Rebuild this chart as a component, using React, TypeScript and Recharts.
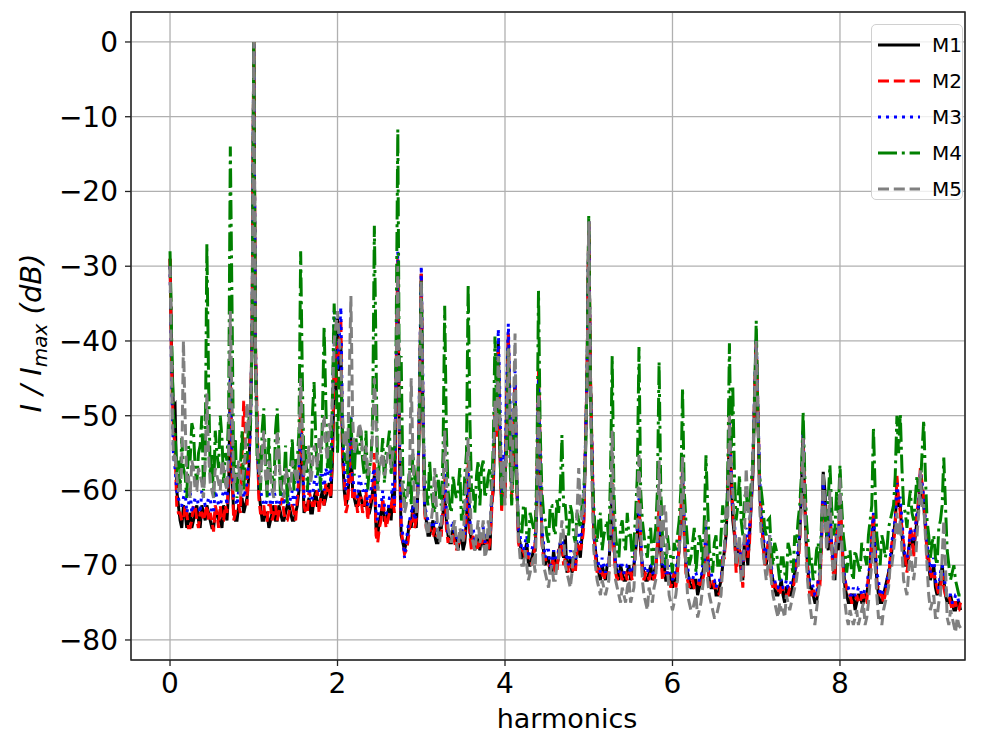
import React from 'react';
import { LineChart, Line, XAxis, YAxis, CartesianGrid, ReferenceArea } from 'recharts';

// harmonic order of the main samples
const harmonics = [
  0, 0.04, 0.08, 0.12, 0.16, 0.2, 0.24, 0.28, 0.32, 0.36, 0.4, 0.44, 0.48, 0.52, 0.56, 0.6, 0.64, 0.68, 0.72, 0.76, 0.8, 0.84, 0.88, 0.92, 0.96,
  1, 1.04, 1.08, 1.12, 1.16, 1.2, 1.24, 1.28, 1.32, 1.36, 1.4, 1.44, 1.48, 1.52, 1.56, 1.6, 1.64, 1.68, 1.72, 1.76, 1.8, 1.84, 1.88, 1.92, 1.96,
  2, 2.04, 2.08, 2.12, 2.16, 2.2, 2.24, 2.28, 2.32, 2.36, 2.4, 2.44, 2.48, 2.52, 2.56, 2.6, 2.64, 2.68, 2.72, 2.76, 2.8, 2.84, 2.88, 2.92, 2.96,
  3, 3.04, 3.08, 3.12, 3.16, 3.2, 3.24, 3.28, 3.32, 3.36, 3.4, 3.44, 3.48, 3.52, 3.56, 3.6, 3.64, 3.68, 3.72, 3.76, 3.8, 3.84, 3.88, 3.92, 3.96,
  4, 4.04, 4.08, 4.12, 4.16, 4.2, 4.24, 4.28, 4.32, 4.36, 4.4, 4.44, 4.48, 4.52, 4.56, 4.6, 4.64, 4.68, 4.72, 4.76, 4.8, 4.84, 4.88, 4.92, 4.96,
  5, 5.04, 5.08, 5.12, 5.16, 5.2, 5.24, 5.28, 5.32, 5.36, 5.4, 5.44, 5.48, 5.52, 5.56, 5.6, 5.64, 5.68, 5.72, 5.76, 5.8, 5.84, 5.88, 5.92, 5.96,
  6, 6.04, 6.08, 6.12, 6.16, 6.2, 6.24, 6.28, 6.32, 6.36, 6.4, 6.44, 6.48, 6.52, 6.56, 6.6, 6.64, 6.68, 6.72, 6.76, 6.8, 6.84, 6.88, 6.92, 6.96,
  7, 7.04, 7.08, 7.12, 7.16, 7.2, 7.24, 7.28, 7.32, 7.36, 7.4, 7.44, 7.48, 7.52, 7.56, 7.6, 7.64, 7.68, 7.72, 7.76, 7.8, 7.84, 7.88, 7.92, 7.96,
  8, 8.04, 8.08, 8.12, 8.16, 8.2, 8.24, 8.28, 8.32, 8.36, 8.4, 8.44, 8.48, 8.52, 8.56, 8.6, 8.64, 8.68, 8.72, 8.76, 8.8, 8.84, 8.88, 8.92, 8.96,
  9, 9.04, 9.08, 9.12, 9.16, 9.2, 9.24, 9.28, 9.32, 9.36, 9.4, 9.44,
];

// harmonic order of the in-between samples
const harmonicsMid = [
  0.02, 0.06, 0.1, 0.14, 0.18, 0.22, 0.26, 0.3, 0.34, 0.38, 0.42, 0.46, 0.5, 0.54, 0.58, 0.62, 0.66, 0.7, 0.74, 0.78, 0.82, 0.86, 0.9, 0.94, 0.98,
  1.02, 1.06, 1.1, 1.14, 1.18, 1.22, 1.26, 1.3, 1.34, 1.38, 1.42, 1.46, 1.5, 1.54, 1.58, 1.62, 1.66, 1.7, 1.74, 1.78, 1.82, 1.86, 1.9, 1.94, 1.98,
  2.02, 2.06, 2.1, 2.14, 2.18, 2.22, 2.26, 2.3, 2.34, 2.38, 2.42, 2.46, 2.5, 2.54, 2.58, 2.62, 2.66, 2.7, 2.74, 2.78, 2.82, 2.86, 2.9, 2.94, 2.98,
  3.02, 3.06, 3.1, 3.14, 3.18, 3.22, 3.26, 3.3, 3.34, 3.38, 3.42, 3.46, 3.5, 3.54, 3.58, 3.62, 3.66, 3.7, 3.74, 3.78, 3.82, 3.86, 3.9, 3.94, 3.98,
  4.02, 4.06, 4.1, 4.14, 4.18, 4.22, 4.26, 4.3, 4.34, 4.38, 4.42, 4.46, 4.5, 4.54, 4.58, 4.62, 4.66, 4.7, 4.74, 4.78, 4.82, 4.86, 4.9, 4.94, 4.98,
  5.02, 5.06, 5.1, 5.14, 5.18, 5.22, 5.26, 5.3, 5.34, 5.38, 5.42, 5.46, 5.5, 5.54, 5.58, 5.62, 5.66, 5.7, 5.74, 5.78, 5.82, 5.86, 5.9, 5.94, 5.98,
  6.02, 6.06, 6.1, 6.14, 6.18, 6.22, 6.26, 6.3, 6.34, 6.38, 6.42, 6.46, 6.5, 6.54, 6.58, 6.62, 6.66, 6.7, 6.74, 6.78, 6.82, 6.86, 6.9, 6.94, 6.98,
  7.02, 7.06, 7.1, 7.14, 7.18, 7.22, 7.26, 7.3, 7.34, 7.38, 7.42, 7.46, 7.5, 7.54, 7.58, 7.62, 7.66, 7.7, 7.74, 7.78, 7.82, 7.86, 7.9, 7.94, 7.98,
  8.02, 8.06, 8.1, 8.14, 8.18, 8.22, 8.26, 8.3, 8.34, 8.38, 8.42, 8.46, 8.5, 8.54, 8.58, 8.62, 8.66, 8.7, 8.74, 8.78, 8.82, 8.86, 8.9, 8.94, 8.98,
  9.02, 9.06, 9.1, 9.14, 9.18, 9.22, 9.26, 9.3, 9.34, 9.38, 9.42,
];

const m1 = [
  -29, -49, -60, -64, -62, -65, -63, -64, -62, -65, -63, -62, -64, -65, -63, -64, -62, -64, -45, -63, -64, -62, -63, -61, -50,
  0, -52, -62, -64, -63, -64, -62, -64, -63, -64, -62, -63, -64, -62, -50, -63, -62, -63, -61, -62, -61, -62, -60, -61, -45,
  -37, -40, -60, -61, -52, -61, -62, -61, -62, -63, -62, -58, -66, -63, -64, -63, -64, -62, -30, -66, -68, -66, -65, -64, -60,
  -31, -62, -66, -65, -66, -67, -65, -60, -66, -67, -66, -68, -66, -67, -58, -67, -68, -67, -66, -68, -67, -62, -50, -40, -62,
  -60, -39, -60, -45, -66, -69, -68, -70, -69, -68, -45, -66, -70, -69, -71, -70, -69, -68, -66, -70, -71, -70, -68, -66, -55,
  -24, -56, -68, -71, -70, -72, -70, -60, -70, -72, -71, -72, -70, -71, -68, -62, -70, -72, -71, -72, -70, -63, -71, -72, -71,
  -73, -72, -68, -58, -70, -72, -73, -72, -73, -71, -66, -72, -73, -74, -73, -70, -66, -52, -64, -70, -68, -72, -68, -66, -58,
  -40, -60, -66, -70, -67, -72, -74, -73, -74, -73, -74, -72, -70, -66, -52, -68, -73, -74, -75, -72, -57.5, -66, -62, -70, -66,
  -62, -70, -74, -75, -74, -75, -74, -75, -74, -70, -64, -72, -75, -74, -72, -70, -66, -60, -62, -68, -70, -66, -68, -64, -58,
  -62, -68, -72, -70, -74, -72, -72, -75, -74, -76, -75, -76,
];
const m1Mid = [
  -42, -48.6, -62, -65, -63, -64, -65, -63, -64, -62, -64, -63, -65, -63, -64, -65, -63, -60, -58, -64, -62, -61, -62, -58, -40,
  -42, -60, -64, -63, -65, -63, -64, -62, -64, -63, -62, -64, -63, -60, -56, -62, -61, -63, -60, -62, -60, -61, -59, -56, -48,
  -44, -55, -62, -58, -60, -62, -60, -62, -61, -63, -60, -65, -64, -62, -64, -62, -60, -45, -55, -67, -67, -64, -62, -65, -48,
  -50, -64, -66, -64, -67, -65, -63, -64, -67, -65, -67, -66, -68, -64, -65, -67, -66, -68, -67, -66, -68, -60, -52, -55, -58,
  -50, -52, -56, -58, -67, -69, -67, -70, -68, -62, -56, -68, -69, -71, -68, -70, -67, -69, -71, -69, -70, -67, -69, -64, -45,
  -45, -66, -70, -72, -71, -70, -66, -67, -71, -70, -72, -71, -72, -70, -66, -68, -71, -72, -70, -71, -68, -68, -70, -72, -72,
  -72, -70, -64, -66, -71, -73, -72, -74, -72, -70, -69, -73, -72, -74, -72, -68, -60, -58, -66, -68, -71, -66, -70, -62, -48,
  -50, -64, -69, -68, -71, -73, -74, -72, -75, -73, -74, -71, -69, -60, -62, -71, -73, -75, -73, -66, -60, -68, -67, -72, -68,
  -66, -73, -75, -74, -76, -74, -75, -74, -72, -67, -68, -74, -75, -73, -71, -68, -64, -62, -66, -70, -68, -67, -66, -62, -60,
  -65, -70, -71, -73, -73, -70, -74, -75, -75, -76, -75,
];

const m2 = [
  -29, -52, -62, -63, -64, -63, -65, -62, -64, -63, -64, -62, -63, -65.5, -63, -62, -64, -63, -46, -64, -62, -63, -48, -62, -51,
  0, -50, -63, -62, -64, -62, -63, -64, -62, -63, -64, -62, -63, -61, -48, -62, -63, -61, -62, -60, -61, -62, -60, -61, -42,
  -40, -37, -58, -62, -52, -60, -63, -61, -62, -64, -61, -55, -67, -64, -63, -64, -62, -63, -29, -65, -68.5, -67, -64, -65, -59,
  -31, -63, -65, -66, -65, -66, -66, -58, -67, -66, -67, -67, -67, -66, -56, -68, -67, -68, -67, -67, -68, -63, -48, -41, -63,
  -61, -39, -61, -46, -67, -68, -69, -69, -70, -67, -44, -67, -69, -70, -70, -71, -68, -67, -69, -71, -70, -71, -67, -67, -54,
  -24, -55, -69, -70, -71, -71, -71, -59, -71, -71, -72, -71, -71, -72, -67, -61, -71, -71, -72, -71, -71, -62, -72, -71, -72,
  -72, -73, -67, -57, -71, -73, -72, -73, -72, -72, -65, -73, -72, -73, -74, -69, -65, -50, -63, -71, -67, -73, -66, -67, -57,
  -40, -59, -67, -69, -68, -73, -73, -74, -73, -74, -73, -73, -69, -67, -53, -67, -74, -73, -74, -73, -60, -65, -63, -71, -65,
  -61, -71, -73, -74, -75, -74, -75, -74, -75, -71, -63, -73, -74, -75, -73, -69, -67, -58, -63, -67, -71, -65, -69, -63, -57,
  -61, -69, -71, -71, -73, -73, -73, -74, -75, -75, -76, -75,
];
const m2Mid = [
  -44, -54, -63, -64, -62, -65, -64, -62, -65, -63, -63, -64, -64, -62, -65, -64, -62, -58, -57, -63, -62, -55, -52, -57, -38,
  -40, -61, -63, -64, -62, -64, -62, -63, -61, -64, -63, -62, -64, -58, -54, -63, -60, -62, -61, -63, -61, -59, -60, -55, -46,
  -42, -56, -63, -58, -61, -61, -61, -63, -60, -62, -61, -66, -65, -61, -65, -63, -61, -44, -54, -67, -68, -65, -63, -64, -47,
  -49, -65, -65, -66, -66, -66, -62, -65, -66, -66, -68, -67, -67, -63, -66, -66, -67, -67, -66, -67, -67, -59, -53, -54, -57,
  -49, -53, -55, -59, -68, -68, -68, -69, -69, -60, -54, -69, -70, -70, -69, -71, -68, -70, -70, -70, -71, -68, -68, -65, -44,
  -44, -65, -71, -71, -72, -71, -65, -68, -72, -71, -71, -72, -71, -71, -65, -67, -72, -71, -71, -72, -67, -67, -71, -71, -73,
  -71, -71, -63, -65, -72, -72, -73, -73, -73, -71, -68, -72, -73, -73, -73, -69, -61, -57, -65, -69, -70, -67, -69, -61, -47,
  -49, -63, -70, -67, -72, -72, -73, -73, -74, -74, -73, -72, -70, -59, -61, -72, -74, -74, -72, -67, -62, -67, -68, -71, -67,
  -65, -72, -74, -75, -75, -75, -74, -75, -71, -66, -67, -73, -74, -74, -72, -67, -65, -61, -65, -69, -69, -66, -65, -61, -59,
  -64, -69, -72, -72, -74, -71, -74, -74, -76, -75, -76,
];

const m3 = [
  -30, -55, -60, -62, -61, -63, -60, -62, -61, -63, -61, -62, -61, -63, -61, -62, -60, -62, -44, -61, -62, -60, -61, -59, -52,
  0, -53, -60, -62, -61, -62, -60, -62, -61, -62, -60, -61, -62, -60, -52, -61, -60, -61, -59, -60, -58, -60, -58, -59, -36,
  -44, -35.5, -57, -59, -50, -60, -61, -59, -60, -62, -60, -57, -64, -62, -62, -63, -61, -62, -28, -64, -69, -65, -63, -64, -60,
  -30, -62, -64, -65, -64, -66, -64, -57, -66, -65, -66, -67, -65, -66, -57, -66, -67, -66, -65, -67, -66, -61, -47, -38.4, -61,
  -58, -37.7, -59, -44, -65, -68, -67, -69, -68, -67, -45, -65, -69, -68, -70, -69, -68, -66, -68, -70, -69, -70, -66, -65, -54,
  -24, -55, -68, -70, -69, -71, -70, -59, -70, -71, -70, -71, -70, -71, -67, -61, -70, -71, -70, -71, -70, -62, -70, -71, -70,
  -72, -71, -67, -57, -69, -72, -72, -71, -72, -70, -64, -71, -72, -73, -72, -69, -65, -51, -62, -69, -67, -71, -65, -65, -56,
  -39.5, -58, -65, -69, -66, -72, -73, -72, -73, -72, -73, -72, -69, -65, -52, -67, -72, -73, -74, -71, -59, -65, -62, -70, -65,
  -61, -70, -73, -74, -73, -74, -73, -74, -73, -70, -63, -71, -74, -73, -72, -69, -65, -59, -61, -67, -69, -65, -67, -63, -57.5,
  -61, -67, -71, -69, -73, -71, -71, -74, -74, -75, -74, -75,
];
const m3Mid = [
  -45, -57, -61, -62, -60, -62, -63, -61, -62, -60, -62, -61, -63, -60, -62, -61, -60, -56, -55, -61, -60, -59, -60, -56, -38,
  -40, -58, -61, -62, -60, -62, -61, -62, -60, -61, -62, -60, -61, -57, -55, -60, -59, -61, -58, -60, -58, -57, -56, -50, -40,
  -40, -52, -60, -56, -58, -60, -58, -60, -59, -61, -58, -63, -62, -60, -63, -61, -59, -43, -52, -66, -67, -64, -62, -63, -45,
  -46, -63, -64, -65, -64, -65, -62, -63, -65, -64, -66, -66, -66, -62, -64, -65, -66, -66, -65, -66, -66, -58, -50, -48, -55,
  -46, -48, -54, -58, -66, -68, -66, -68, -67, -61, -55, -67, -68, -70, -68, -69, -67, -68, -69, -68, -69, -66, -67, -63, -44,
  -45, -64, -69, -71, -70, -70, -65, -66, -70, -70, -71, -70, -71, -70, -65, -66, -70, -71, -70, -71, -67, -67, -69, -71, -71,
  -71, -69, -63, -64, -70, -72, -71, -72, -72, -70, -68, -71, -72, -72, -72, -68, -60, -57, -64, -68, -70, -66, -68, -61, -47,
  -49, -63, -68, -67, -70, -72, -73, -72, -73, -73, -72, -71, -68, -59, -61, -70, -72, -74, -72, -66, -61, -67, -67, -70, -67,
  -65, -72, -73, -74, -74, -73, -74, -73, -71, -66, -67, -72, -74, -73, -71, -67, -64, -61, -64, -69, -68, -66, -65, -62, -59,
  -64, -69, -70, -72, -73, -70, -73, -74, -75, -74, -75,
];

const m4 = [
  -28, -50, -58, -60, -57, -61, -56, -52, -59, -54, -60, -27, -58, -61, -55, -50, -59, -56, -14, -58, -61, -57, -60, -56, -52,
  0, -56, -60, -49, -61, -58, -60, -49, -61, -59, -62, -57, -60, -56, -28, -57, -60, -58, -45.5, -58, -60, -38, -57, -58, -35,
  -55, -45, -56, -58, -50, -58, -55, -52, -58, -60, -56, -24.6, -60, -56, -59, -54, -58, -56, -11.7, -42, -62, -60, -62, -58, -60,
  -32, -58, -62, -60, -63, -58, -62, -35.3, -60, -63, -60, -60, -64, -58, -32.4, -60, -63, -56, -57, -61, -58, -60, -39.4, -42, -62,
  -58, -41, -62, -48, -64, -66, -62, -67, -64, -66, -33.3, -60, -64, -67, -62, -66, -63, -52.6, -62, -66, -63, -67, -64, -62, -56,
  -23.3, -58, -66, -64, -68, -65, -67, -42, -66, -69, -64, -68, -66, -69, -63, -40.8, -64, -68, -66, -70, -65, -42.8, -66, -70, -68,
  -71, -68, -64, -46.3, -64, -70, -67, -71, -66, -70, -55.3, -68, -71, -66, -70, -62, -66, -40.3, -46, -64, -58, -66, -60, -62, -56,
  -37.3, -58, -62, -66, -63.7, -70, -68, -72, -69, -72, -68, -71, -67, -62, -49.5, -64, -70, -72, -68, -71, -62, -66, -56.6, -66, -60,
  -56.6, -66, -71, -68, -72, -69, -71, -68, -70, -64, -51.5, -66, -70, -67, -68, -64, -62, -50, -49.7, -62, -65, -60, -64, -58, -60,
  -50.6, -64, -69, -66, -70, -64, -55.6, -68, -72, -70, -73, -74,
];
const m4Mid = [
  -40, -52, -56, -53, -58, -54, -51, -57, -55, -50, -56, -45, -55, -52, -57, -53, -55, -50, -35, -53, -57, -52, -55, -50, -40,
  -42, -55, -52, -56, -53, -58, -52, -55, -58, -54, -57, -53, -56, -52, -45, -54, -57, -50, -53, -56, -50, -48, -54, -47, -42,
  -45, -52, -55, -50, -56, -53, -55, -56, -52, -57, -50, -42, -56, -53, -55, -52, -54, -40, -50, -58, -60, -57, -55, -59, -48,
  -50, -60, -56, -62, -58, -61, -55, -52, -62, -58, -61, -57, -63, -55, -50, -60, -58, -62, -56, -60, -57, -54, -50, -55, -58,
  -55, -56, -57, -60, -65, -62, -66, -63, -65, -58, -52, -63, -66, -62, -65, -61, -60, -62, -65, -62, -66, -63, -65, -60, -45,
  -45, -62, -67, -63, -66, -64, -58, -60, -68, -65, -67, -63, -66, -67, -58, -60, -66, -69, -65, -67, -60, -60, -68, -66, -69,
  -67, -66, -60, -60, -67, -69, -65, -68, -67, -64, -62, -69, -67, -70, -66, -64, -58, -55, -58, -62, -64, -61, -63, -59, -48,
  -50, -60, -65, -64, -68, -67, -70, -69, -71, -67, -70, -66, -64, -58, -58, -67, -69, -71, -67, -64, -63, -61, -62, -65, -63,
  -62, -68, -69, -71, -68, -70, -67, -69, -66, -62, -60, -68, -66, -69, -65, -63, -58, -55, -57, -63, -62, -63, -61, -60, -55,
  -58, -66, -67, -69, -65, -62, -62, -70, -71, -72, -74,
];

const m5 = [
  -30, -56, -58, -60, -40, -59, -61, -57, -60, -58, -61, -47, -59, -61, -58, -60, -57, -60, -36, -60, -58, -61, -57, -48.3, -50,
  0, -54, -59, -52, -60, -58, -61, -52, -59, -61, -58, -60, -57, -59, -45, -58, -56, -59, -54, -57, -55, -50, -56, -52, -40,
  -36, -42, -54, -56, -34, -55, -53, -52, -56, -58, -56, -45, -60, -56, -58, -55, -57, -54, -30, -58, -63, -60, -45, -62, -60,
  -32, -62, -66, -64, -57, -66, -64, -52, -65, -67, -64, -68, -66, -62, -53, -66, -68, -64, -66, -69, -64, -60, -48, -42, -60,
  -62, -41, -60, -39, -66, -70, -68, -72, -70, -71, -47, -66, -71, -73, -70, -72, -69, -64, -70, -72, -71, -69, -57, -64, -56,
  -24, -60, -70, -73, -72, -74, -72, -52, -72, -74, -73, -75, -72, -74, -68, -55, -72, -75, -73, -75, -72, -56, -70, -63, -74,
  -76, -74, -68, -55.5, -70, -75, -76, -74, -76, -73, -64, -74, -76, -77, -75, -70, -62, -50, -60, -70, -66, -72, -57, -64, -56,
  -40, -62, -68, -72, -66, -74, -76, -75, -76, -74, -76, -74, -72, -66, -53, -70, -75, -77, -76, -72, -57.5, -68, -60, -72, -66,
  -58, -72, -77, -76, -78, -76, -77, -75, -77, -72, -65.5, -74, -77, -76, -74, -70, -68, -63, -64, -72, -74, -68, -72, -66, -57.3,
  -62, -70, -76, -74, -77, -74, -64, -77, -76, -78, -77, -78.4,
];
const m5Mid = [
  -45, -55, -60, -57, -50, -58, -56, -60, -57, -59, -56, -55, -60, -57, -59, -56, -59, -55, -48, -58, -56, -59, -55, -52, -38,
  -40, -57, -55, -58, -56, -60, -57, -55, -60, -57, -59, -56, -58, -55, -52, -57, -54, -57, -55, -53, -52, -54, -51, -48, -38,
  -40, -50, -52, -45, -50, -54, -51, -55, -54, -57, -52, -50, -57, -55, -57, -54, -55, -45, -52, -60, -62, -58, -55, -63, -45,
  -48, -65, -64, -62, -62, -67, -60, -58, -66, -65, -67, -65, -67, -58, -60, -67, -66, -67, -64, -68, -66, -57, -52, -50, -56,
  -52, -50, -50, -58, -69, -70, -70, -71, -69, -62, -58, -70, -72, -71, -72, -70, -67, -66, -71, -73, -68, -63, -62, -62, -45,
  -45, -68, -72, -74, -73, -73, -65, -64, -73, -75, -74, -73, -75, -73, -64, -65, -74, -76, -74, -73, -66, -65, -62, -70, -75,
  -75, -72, -64, -66, -74, -76, -75, -77, -75, -71, -72, -75, -77, -76, -74, -68, -64, -58, -65, -68, -72, -66, -62, -62, -48,
  -50, -66, -70, -70, -72, -75, -77, -76, -77, -75, -75, -73, -70, -62, -62, -73, -77, -78, -74, -66, -62, -64, -67, -70, -67,
  -66, -75, -78, -77, -77, -78, -76, -78, -75, -70, -70, -77, -78, -75, -73, -70, -66, -66, -68, -73, -71, -70, -70, -63, -62,
  -66, -74, -75, -77, -75, -69, -70, -78, -77, -79, -78,
];

const xTicks = [0, 2, 4, 6, 8];
const yTicks = [0, -10, -20, -30, -40, -50, -60, -70, -80];
const seriesNames = ['M1', 'M2', 'M3', 'M4', 'M5'];

type Row = { h: number; m1: number; m2: number; m3: number; m4: number; m5: number };
const data: Row[] = [];
harmonics.forEach((h, i) => {
  data.push({ h, m1: m1[i], m2: m2[i], m3: m3[i], m4: m4[i], m5: m5[i] });
  if (i < harmonicsMid.length) {
    data.push({ h: harmonicsMid[i], m1: m1Mid[i], m2: m2Mid[i], m3: m3Mid[i], m4: m4Mid[i], m5: m5Mid[i] });
  }
});

const FONT = '"DejaVu Sans", Verdana, sans-serif';
const X_DOMAIN: [number, number] = [-0.466, 9.493];
const Y_DOMAIN: [number, number] = [-82.68, 4.01];
const LW = 3;

const styles = [
  { key: 'm1', color: '#000000', dash: undefined as string | undefined },
  { key: 'm2', color: '#ff0000', dash: '11 4.8' },
  { key: 'm3', color: '#0000ff', dash: '3 5' },
  { key: 'm4', color: '#008000', dash: '19 4.8 3 4.8' },
  { key: 'm5', color: '#808080', dash: '11 4.8' },
];

const fmt = (v: number) => (v < 0 ? '\u2212' + Math.abs(v) : String(v));

export default function App() {
  return (
    <div style={{ position: 'absolute', left: 0, top: 0, width: 991, height: 735, overflow: 'hidden', background: '#fff', fontFamily: FONT }}>
      <LineChart width={991} height={735} data={data} margin={{ top: 12, right: 26, bottom: 35, left: 61 }}>
        <CartesianGrid stroke="#b0b0b0" strokeWidth={1.3} />
        <XAxis
          type="number"
          dataKey="h"
          domain={X_DOMAIN}
          ticks={xTicks}
          allowDataOverflow
          interval={0}
          height={40}
          axisLine={false}
          tickSize={6}
          tickMargin={7}
          tickLine={{ stroke: '#222', strokeWidth: 1.3 }}
          tick={{ fontSize: 28, fill: '#000', fontFamily: FONT }}
        />
        <YAxis
          type="number"
          domain={Y_DOMAIN}
          ticks={yTicks}
          allowDataOverflow
          interval={0}
          width={70}
          axisLine={false}
          tickSize={6}
          tickMargin={7}
          tickFormatter={fmt}
          tickLine={{ stroke: '#222', strokeWidth: 1.3 }}
          tick={{ fontSize: 28, fill: '#000', fontFamily: FONT }}
        />
        {styles.map((s) => (
          <Line
            key={s.key}
            type="linear"
            dataKey={s.key}
            stroke={s.color}
            strokeWidth={LW}
            strokeDasharray={s.dash}
            dot={false}
            activeDot={false}
            isAnimationActive={false}
          />
        ))}
        <ReferenceArea x1={X_DOMAIN[0]} x2={X_DOMAIN[1]} y1={Y_DOMAIN[0]} y2={Y_DOMAIN[1]} fill="none" stroke="#222" strokeWidth={1.5} ifOverflow="visible" />
      </LineChart>

      <svg width={991} height={735} style={{ position: 'absolute', left: 0, top: 0, pointerEvents: 'none' }}>
        <text x={567} y={728} textAnchor="middle" fontSize={27} fill="#000" fontFamily={FONT}>harmonics</text>
        <text transform="translate(41,333) rotate(-90)" textAnchor="middle" fontSize={29} fill="#000" fontFamily={FONT} fontStyle="italic">
          I / I<tspan dy={6} fontSize={20}>max</tspan><tspan dy={-6}> (dB)</tspan>
        </text>
      </svg>

      <div
        style={{
          position: 'absolute',
          left: 871,
          top: 24,
          width: 92,
          height: 176,
          boxSizing: 'border-box',
          border: '1.3px solid #d0d0d0',
          borderRadius: 5,
          background: 'rgba(255,255,255,0.8)',
        }}
      >
        {styles.map((s, i) => (
          <div key={s.key} style={{ position: 'absolute', left: 0, top: 6 + i * 36, height: 28, width: 92 }}>
            <svg width={50} height={28} style={{ position: 'absolute', left: 6, top: 0 }}>
              <line x1={0} y1={14} x2={42} y2={14} stroke={s.color} strokeWidth={LW} strokeDasharray={s.dash} />
            </svg>
            <span style={{ position: 'absolute', left: 60, top: 2, fontSize: 20, lineHeight: '24px', color: '#000', fontFamily: FONT }}>
              {seriesNames[i]}
            </span>
          </div>
        ))}
      </div>
    </div>
  );
}
